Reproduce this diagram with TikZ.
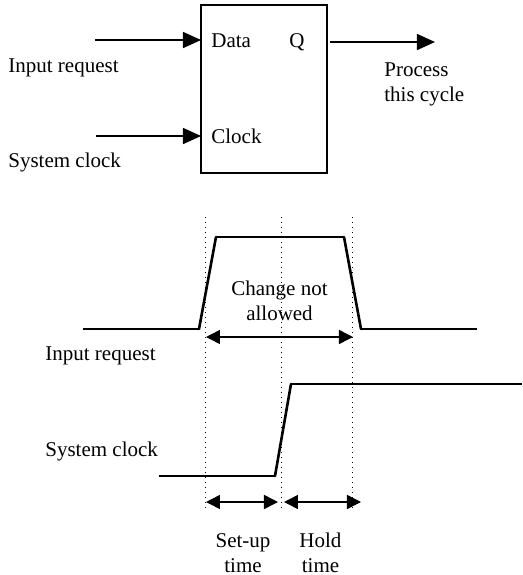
\documentclass[tikz,border=0pt]{standalone}
\usepackage{fontspec}
\setmainfont{Liberation Serif}
\usetikzlibrary{positioning, arrows.meta}

\begin{document}
\begin{tikzpicture}[x=0.5pt, y=-0.5pt, font=\fontsize{10.5}{12.5}\selectfont]
        \tikzstyle{ffbox} = [rectangle, draw=black, line width=0.75pt, minimum width=63pt, minimum height=84pt, inner sep=0pt, outer sep=0pt]
        \tikzstyle{lbl} = [anchor=base west, inner sep=0pt]
        \tikzstyle{clbl} = [anchor=base, inner sep=0pt, align=center]
        \tikzstyle{singlearrow} = [line width=0.75pt, -{Triangle[length=9pt, width=8pt]}]
        \tikzstyle{spanarrow} = [line width=0.75pt, {Triangle[length=7pt, width=7pt]}-{Triangle[length=7pt, width=7pt]}]
        \tikzstyle{level} = [line width=0.75pt]
        \tikzstyle{edge} = [line width=1.3pt, line cap=round]
        \tikzstyle{guide} = [line width=0.5pt, dotted]
        \useasboundingbox (0,0) rectangle (523,575);

        % flip-flop block
        \node (ff) [ffbox] at (264,89) {};
        \node (data) [lbl] at (211,47) {Data};
        \node (q) [lbl] at (289,47) {Q};
        \node (clk) [lbl] at (211,143) {Clock};
        \node (req) [lbl] at (8,72) {Input request};
        \node (sys) [lbl] at (8,167) {System clock};
        \node (proc) [clbl, anchor=north west, align=left] at (384,62) {Process\\this cycle};

        \coordinate (datain) at (95,40);
        \coordinate (clkin) at (96,136);
        \coordinate (qout) at (435,42);
        \draw[singlearrow] (datain) -- (datain -| ff.west);
        \draw[singlearrow] (clkin) -- (clkin -| ff.west);
        \draw[singlearrow] (ff.east |- qout) ++(3,0) -- (qout);

        % timing diagram
        \coordinate (g1) at (206,217);
        \coordinate (g2) at (282,217);
        \coordinate (g3) at (353,217);
        \foreach \g in {g1, g2, g3}
            \draw[guide] (\g) -- ++(0,291);

        \draw[level] (83,329) -- (199,329);
        \draw[edge] (199,329) -- (216,237);
        \draw[level] (216,237) -- (344,237);
        \draw[edge] (344,237) -- (361,329);
        \draw[level] (361,329) -- (477,329);

        \draw[level] (159,476) -- (275,476);
        \draw[edge] (275,476) -- (291,384);
        \draw[level] (291,384) -- (522,384);

        \node (req2) [lbl] at (45,360) {Input request};
        \node (sys2) [lbl] at (45,456) {System clock};
        \node (change) [clbl] at (279.5,320) {Change not\\allowed};

        \draw[spanarrow] (g1 |- 0,337) -- (g3 |- 0,337);
        \draw[spanarrow] (g1 |- 0,502) -- ([xshift=-2] g2 |- 0,502);
        \draw[spanarrow] ([xshift=1] g2 |- 0,502) -- ([xshift=4] g3 |- 0,502);

        \node (setup) [clbl] at (243,572) {Set-up\\time};
        \node (hold) [clbl] at (320.5,572) {Hold\\time};
    \end{tikzpicture}
\end{document}
